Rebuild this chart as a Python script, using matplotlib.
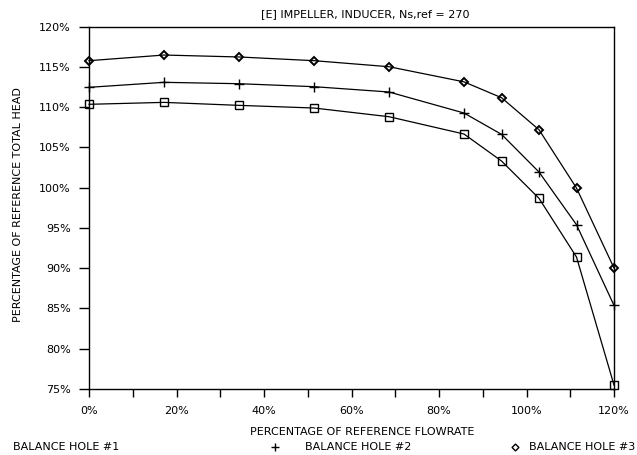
import matplotlib
matplotlib.use("Agg")
import matplotlib.pyplot as plt
from matplotlib.lines import Line2D
from matplotlib.ticker import MultipleLocator, FuncFormatter

flow = [0.0, 17.14, 34.29, 51.43, 68.57, 85.71, 94.29, 102.86, 111.43, 120.0]
hole1 = [110.36, 110.6, 110.23, 109.9, 108.82, 106.67, 103.32, 98.68, 91.39, 75.49]
hole2 = [112.47, 113.09, 112.92, 112.55, 111.89, 109.28, 106.63, 101.95, 95.4, 85.39]
hole3 = [115.78, 116.48, 116.24, 115.78, 115.03, 113.15, 111.18, 107.2, 99.96, 90.03]

title = "[E] IMPELLER, INDUCER, Ns,ref = 270"
xlabel = "PERCENTAGE OF REFERENCE FLOWRATE"
ylabel = "PERCENTAGE OF REFERENCE TOTAL HEAD"
labels = ["BALANCE HOLE #1", "BALANCE HOLE #2", "BALANCE HOLE #3"]

plt.rcParams['font.family'] = ['DejaVu Sans']
fs = 8

fig = plt.figure(figsize=(6.37, 4.55), dpi=100)
ax = fig.add_axes([89/637, 1 - 389/455, (614 - 89)/637, (389 - 26.7)/455])

ax.plot(flow, hole1, color='black', lw=0.9, marker='s', ms=5.5, mfc='none', mec='black', mew=1.0, clip_on=False, zorder=3)
ax.plot(flow, hole2, color='black', lw=0.9, marker='+', ms=6.5, mec='black', mew=1.0, clip_on=False, zorder=3)
ax.plot(flow, hole3, color='black', lw=0.9, marker='D', ms=4.2, mfc='none', mec='black', mew=1.4, clip_on=False, zorder=3)

ax.set_xlim(0, 120)
ax.set_ylim(75, 120)
ax.xaxis.set_major_locator(MultipleLocator(20))
ax.xaxis.set_minor_locator(MultipleLocator(10))
ax.yaxis.set_major_locator(MultipleLocator(5))
pct = FuncFormatter(lambda v, p: f"{v:.0f}%")
ax.xaxis.set_major_formatter(pct)
ax.yaxis.set_major_formatter(pct)
ax.tick_params(axis='both', which='both', direction='out', color='black', width=1.0, labelsize=fs)
ax.tick_params(axis='x', which='both', length=6, pad=6)
ax.tick_params(axis='y', which='major', length=7, pad=6)
for s in ax.spines.values():
    s.set_linewidth(1.0)
    s.set_color('black')

fig.text(365/637, 1 - 14/455, title, ha='center', va='center', fontsize=fs)
fig.text(362/637, 1 - 432/455, xlabel, ha='center', va='center', fontsize=fs)
fig.text(18/637, 1 - 205/455, ylabel, ha='center', va='center', rotation=90, fontsize=fs)

ly = 1 - 447/455
fig.text(13/637, ly, labels[0], ha='left', va='center', fontsize=fs)
fig.add_artist(Line2D([275/637], [ly], marker='+', ms=6, mew=1.0, color='black', transform=fig.transFigure))
fig.text(305/637, ly, labels[1], ha='left', va='center', fontsize=fs)
fig.add_artist(Line2D([515/637], [ly], marker='D', ms=3.5, mew=1.0, mfc='none', color='black', transform=fig.transFigure))
fig.text(635/637, ly, labels[2], ha='right', va='center', fontsize=fs)

fig.savefig("out.png", dpi=100)
